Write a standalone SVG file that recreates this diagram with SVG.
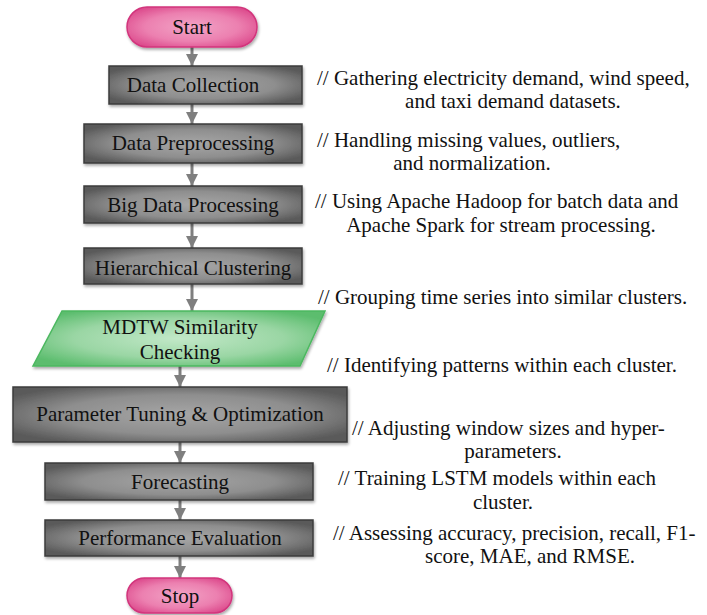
<svg xmlns="http://www.w3.org/2000/svg" width="707" height="615" viewBox="0 0 707 615">
<defs>
<radialGradient id="gGray" cx="0.5" cy="0.5" r="0.6">
<stop offset="0" stop-color="#a6a6a6"/>
<stop offset="0.6" stop-color="#8e8e8e"/>
<stop offset="1" stop-color="#5a5a5a"/>
</radialGradient>
<radialGradient id="gPink" cx="0.5" cy="0.5" r="0.6">
<stop offset="0" stop-color="#f2a4c6"/>
<stop offset="0.6" stop-color="#ec80b0"/>
<stop offset="1" stop-color="#dc4a8c"/>
</radialGradient>
<radialGradient id="gGreen" cx="0.5" cy="0.5" r="0.6">
<stop offset="0" stop-color="#c2e8c8"/>
<stop offset="0.6" stop-color="#9ad6a4"/>
<stop offset="1" stop-color="#5cbd6e"/>
</radialGradient>
<filter id="sh" x="-10%" y="-20%" width="120%" height="150%">
<feGaussianBlur in="SourceAlpha" stdDeviation="1.5"/>
<feOffset dx="1" dy="2" result="b"/>
<feComponentTransfer><feFuncA type="linear" slope="0.35"/></feComponentTransfer>
<feMerge><feMergeNode/><feMergeNode in="SourceGraphic"/></feMerge>
</filter>
<marker id="arr" markerUnits="userSpaceOnUse" markerWidth="14" markerHeight="12" refX="12" refY="6" orient="auto">
<path d="M0,0 L12,6 L0,12 Z" fill="#7f7f7f"/>
</marker>
</defs>
<style>
.box{fill:url(#gGray);stroke:#3c3c3c;stroke-width:1.5;filter:url(#sh)}
.pill{fill:url(#gPink);stroke:#d2347c;stroke-width:1.5;filter:url(#sh)}
.para{fill:url(#gGreen);stroke:#4cb860;stroke-width:1.5;filter:url(#sh)}
.lbl{font-family:"Liberation Serif","Times New Roman",serif;font-size:21px;fill:#111;text-anchor:middle}
.note{font-family:"Liberation Serif","Times New Roman",serif;font-size:21px;fill:#111}
.mid{text-anchor:middle}
.con{stroke:#7f7f7f;stroke-width:3;fill:none;marker-end:url(#arr)}
</style>
<rect width="707" height="615" fill="#ffffff"/>
<g id="connectors">
<line class="con" x1="192" y1="47" x2="192" y2="66"/>
<line class="con" x1="192" y1="104" x2="192" y2="124"/>
<line class="con" x1="192" y1="163" x2="192" y2="186"/>
<line class="con" x1="192" y1="223" x2="192" y2="248"/>
<line class="con" x1="192" y1="284" x2="192" y2="311"/>
<line class="con" x1="180" y1="366" x2="180" y2="387"/>
<line class="con" x1="180" y1="442" x2="180" y2="463"/>
<line class="con" x1="180" y1="500" x2="180" y2="520"/>
<line class="con" x1="180" y1="556" x2="180" y2="578"/>
</g>
<g id="start">
<rect class="pill" x="127" y="7" width="130" height="40" rx="20" ry="20"/>
<text class="lbl" x="192" y="34">Start</text>
</g>
<g id="data-collection">
<rect class="box" x="109" y="66" width="193" height="38"/>
<text class="lbl" x="193" y="92">Data Collection</text>
</g>
<g id="data-preprocessing">
<rect class="box" x="84" y="124" width="218" height="39"/>
<text class="lbl" x="193" y="150">Data Preprocessing</text>
</g>
<g id="big-data-processing">
<rect class="box" x="84" y="186" width="218" height="37"/>
<text class="lbl" x="193" y="212">Big Data Processing</text>
</g>
<g id="hierarchical-clustering">
<rect class="box" x="84" y="248" width="218" height="36"/>
<text class="lbl" x="193" y="275">Hierarchical Clustering</text>
</g>
<g id="mdtw">
<polygon class="para" points="62,311 325,311 300,366 33,366"/>
<text class="lbl" x="180" y="334">MDTW Similarity</text>
<text class="lbl" x="180" y="359">Checking</text>
</g>
<g id="parameter-tuning">
<rect class="box" x="13" y="387" width="334" height="55"/>
<text class="lbl" x="180" y="421">Parameter Tuning &amp; Optimization</text>
</g>
<g id="forecasting">
<rect class="box" x="45" y="463" width="268" height="37"/>
<text class="lbl" x="180" y="489">Forecasting</text>
</g>
<g id="performance-evaluation">
<rect class="box" x="45" y="520" width="268" height="36"/>
<text class="lbl" x="180" y="545">Performance Evaluation</text>
</g>
<g id="stop">
<rect class="pill" x="127" y="578" width="105" height="35" rx="17.5" ry="17.5"/>
<text class="lbl" x="180" y="603">Stop</text>
</g>
<g id="notes">
<text class="note" x="317" y="85">// Gathering electricity demand, wind speed,</text>
<text class="note mid" x="513" y="108">and taxi demand datasets.</text>
<text class="note" x="317" y="147">// Handling missing values, outliers,</text>
<text class="note mid" x="472" y="170">and normalization.</text>
<text class="note" x="315" y="208">// Using Apache Hadoop for batch data and</text>
<text class="note mid" x="501" y="232">Apache Spark for stream processing.</text>
<text class="note" x="318" y="304">// Grouping time series into similar clusters.</text>
<text class="note" x="327" y="372">// Identifying patterns within each cluster.</text>
<text class="note" x="352" y="435">// Adjusting window sizes and hyper-</text>
<text class="note mid" x="513" y="458">parameters.</text>
<text class="note" x="338" y="485">// Training LSTM models within each</text>
<text class="note mid" x="503" y="509">cluster.</text>
<text class="note" x="333" y="540">// Assessing accuracy, precision, recall, F1-</text>
<text class="note mid" x="530" y="563">score, MAE, and RMSE.</text>
</g>
</svg>
